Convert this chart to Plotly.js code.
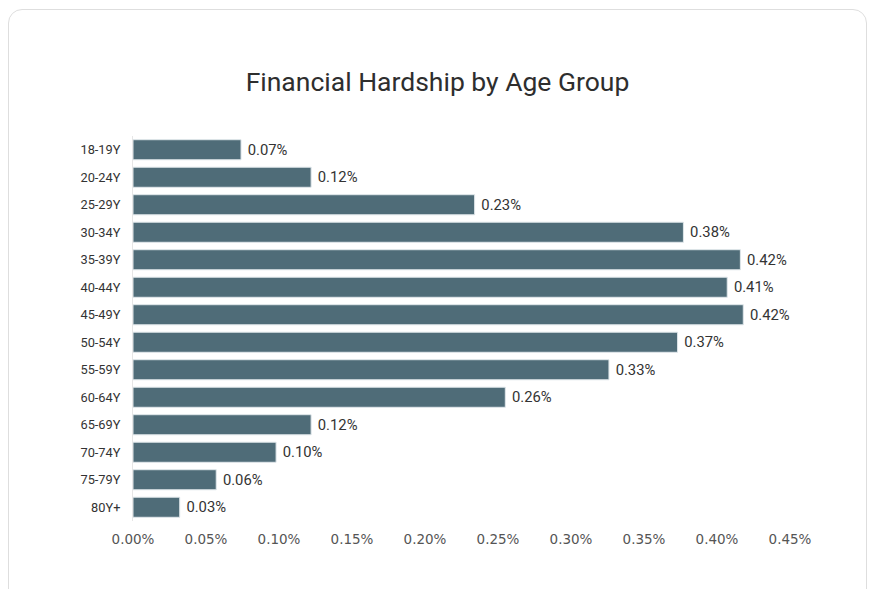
<!DOCTYPE html>
<html>
<head>
<meta charset="utf-8">
<script src="https://cdn.plot.ly/plotly-3.0.1.min.js"></script>
<style>
  html, body { margin: 0; padding: 0; width: 875px; height: 589px; overflow: hidden; background: #fff; }
  #card { position: absolute; left: 8px; top: 9px; width: 857px; height: 600px; border: 1px solid #dedede; border-radius: 14px; background: #fff; }
  #chart { position: absolute; left: 0; top: 0; width: 875px; height: 589px; }
</style>
</head>
<body>
<div id="card"></div>
<div id="chart"></div>
<script>
const ageGroups = ["18-19Y","20-24Y","25-29Y","30-34Y","35-39Y","40-44Y","45-49Y","50-54Y","55-59Y","60-64Y","65-69Y","70-74Y","75-79Y","80Y+"];
const hardshipRate = [0.00074,0.00122,0.00234,0.00377,0.00416,0.00407,0.00418,0.00373,0.00326,0.00255,0.00122,0.00098,0.00057,0.00032];
const xTickValues = [0,0.0005,0.001,0.0015,0.002,0.0025,0.003,0.0035,0.004,0.0045];

const trace = {
  type: 'bar',
  orientation: 'h',
  y: ageGroups,
  x: hardshipRate,
  marker: { color: '#4f6c78', line: { color: '#dfe6ea', width: 1 } },
  texttemplate: ' %{x:.2%}',
  textposition: 'outside',
  constraintext: 'none',
  cliponaxis: false,
  textfont: { family: 'Roboto, sans-serif', size: 14.8, color: '#333' },
  hoverinfo: 'none'
};

const layout = {
  width: 875, height: 589,
  paper_bgcolor: 'rgba(0,0,0,0)',
  plot_bgcolor: 'rgba(0,0,0,0)',
  margin: { l: 133, r: 85, t: 136, b: 68 },
  title: { text: 'Financial Hardship by Age Group', x: 0.5, xanchor: 'center', y: 0.861, yanchor: 'middle',
           font: { family: 'Roboto, sans-serif', size: 26.5, color: '#2e2e2e' } },
  bargap: 0.27,
  showlegend: false,
  xaxis: {
    range: [0, 0.0045],
    tickvals: xTickValues,
    tickformat: '.2%',
    showgrid: false, zeroline: false, showline: false,
    tickfont: { family: 'DejaVu Sans, sans-serif', size: 13.5, color: '#555' },
    ticks: '', ticklabelstandoff: 8
  },
  yaxis: {
    autorange: 'reversed',
    showgrid: false, zeroline: false,
    showline: true, linecolor: '#e6e6e6', linewidth: 1,
    tickfont: { family: 'Roboto, sans-serif', size: 12.8, color: '#333' },
    ticks: '', ticklabelstandoff: 9
  }
};

Plotly.newPlot('chart', [trace], layout, { displayModeBar: false, staticPlot: true });
</script>
</body>
</html>
